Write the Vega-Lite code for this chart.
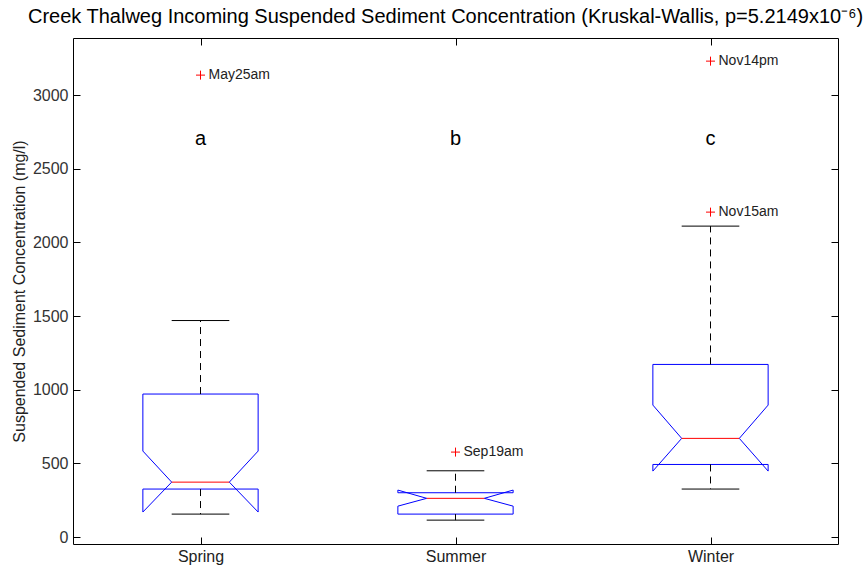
{
  "$schema": "https://vega.github.io/schema/vega-lite/v6.json",
  "autosize": "none",
  "width": 765,
  "height": 506,
  "padding": {"left": 73, "top": 38, "right": 25, "bottom": 27},
  "background": "white",
  "title": {
    "text": "Creek Thalweg Incoming Suspended Sediment Concentration (Kruskal-Wallis, p=5.2149x10⁻⁶)",
    "font": "Liberation Sans",
    "fontSize": 20,
    "fontWeight": "normal",
    "color": "#000",
    "anchor": "middle",
    "dx": -10,
    "offset": 11
  },
  "config": {
    "view": {"stroke": "#000", "strokeWidth": 1},
    "font": "Liberation Sans",
    "axis": {"grid": false, "domain": false, "labelFont": "Liberation Sans", "titleFont": "Liberation Sans"}
  },
  "datasets": {
    "stats": [
      {"season": "Spring", "pos": 1, "wlo": 156, "q1": 326, "nlo": 170, "med": 373, "nhi": 584, "q3": 971, "whi": 1470, "letter": "a"},
      {"season": "Summer", "pos": 2, "wlo": 115, "q1": 156, "nlo": 210, "med": 263, "nhi": 319, "q3": 301, "whi": 450, "letter": "b"},
      {"season": "Winter", "pos": 3, "wlo": 326, "q1": 493, "nlo": 448, "med": 670, "nhi": 896, "q3": 1172, "whi": 2111, "letter": "c"}
    ],
    "outliers": [
      {"season": "Spring", "pos": 1, "value": 3136, "label": "May25am"},
      {"season": "Summer", "pos": 2, "value": 577, "label": "Sep19am"},
      {"season": "Winter", "pos": 3, "value": 2206, "label": "Nov15am"},
      {"season": "Winter", "pos": 3, "value": 3231, "label": "Nov14pm"}
    ]
  },
  "resolve": {"axis": {"x": "independent", "y": "independent"}},
  "layer": [
    {
      "data": {"name": "stats"},
      "transform": [
        {"fold": ["q1", "nlo", "med", "nhi", "q3"], "as": ["stat", "v"]},
        {"calculate": "indexof(['q1','nlo','med','nhi','q3'], datum.stat)", "as": "i"},
        {"calculate": "datum.v", "as": "L"},
        {"calculate": "datum.v", "as": "R"},
        {"fold": ["L", "R"], "as": ["side", "vv"]},
        {"calculate": "datum.side === 'L' ? datum.i : 9 - datum.i", "as": "k"},
        {"calculate": "datum.pos + (datum.side === 'L' ? -1 : 1) * (datum.stat === 'med' ? 0.113 : 0.226)", "as": "vx"}
      ],
      "mark": {"type": "line", "color": "#0000ff", "strokeWidth": 1, "interpolate": "linear"},
      "encoding": {
        "x": {"field": "vx", "type": "quantitative", "scale": {"domain": [0.5, 3.5], "nice": false, "zero": false},
          "axis": {"orient": "bottom", "values": [1, 2, 3], "labelExpr": "datum.value == 1 ? 'Spring' : datum.value == 2 ? 'Summer' : 'Winter'",
            "tickSize": -7, "tickColor": "#000", "labelPadding": 11, "labelFontSize": 16, "labelColor": "#222", "title": null}},
        "y": {"field": "vv", "type": "quantitative", "scale": {"domain": [-47, 3388], "nice": false, "zero": false},
          "axis": {"orient": "left", "values": [0, 500, 1000, 1500, 2000, 2500, 3000], "format": "d", "tickSize": -7, "tickColor": "#000",
            "labelPadding": 12, "labelFontSize": 16, "labelColor": "#333",
            "title": "Suspended Sediment Concentration (mg/l)", "titleFontSize": 16, "titleFontWeight": "normal", "titleColor": "#222", "titlePadding": 5}},
        "detail": {"field": "season"},
        "order": {"field": "k", "type": "quantitative"}
      }
    },
    {
      "data": {"name": "stats"},
      "transform": [
        {"calculate": "datum.pos - 0.226", "as": "xl"},
        {"calculate": "datum.pos + 0.226", "as": "xr"}
      ],
      "mark": {"type": "rule", "color": "#0000ff", "strokeWidth": 1},
      "encoding": {
        "x": {"field": "xl", "type": "quantitative", "scale": {"domain": [0.5, 3.5], "nice": false, "zero": false},
          "axis": {"orient": "top", "values": [1, 2, 3], "labels": false, "tickSize": -7, "tickColor": "#000", "title": null}},
        "x2": {"field": "xr"},
        "y": {"field": "q1", "type": "quantitative", "scale": {"domain": [-47, 3388], "nice": false, "zero": false},
          "axis": {"orient": "right", "values": [0, 500, 1000, 1500, 2000, 2500, 3000], "labels": false, "tickSize": -7, "tickColor": "#000", "title": null}}
      }
    },
    {
      "data": {"name": "stats"},
      "transform": [
        {"fold": ["whi", "wlo"], "as": ["w", "wv"]},
        {"calculate": "datum.w === 'whi' ? datum.q3 : datum.q1", "as": "edge"}
      ],
      "mark": {"type": "rule", "color": "#000", "strokeWidth": 1, "strokeDash": [7, 5]},
      "encoding": {
        "x": {"field": "pos", "type": "quantitative", "scale": {"domain": [0.5, 3.5], "nice": false, "zero": false}, "axis": null},
        "y": {"field": "edge", "type": "quantitative", "scale": {"domain": [-47, 3388], "nice": false, "zero": false}, "axis": null},
        "y2": {"field": "wv"},
        "detail": {"field": "w"}
      }
    },
    {
      "data": {"name": "stats"},
      "transform": [
        {"fold": ["whi", "wlo"], "as": ["w", "wv"]},
        {"calculate": "datum.pos - 0.113", "as": "cl"},
        {"calculate": "datum.pos + 0.113", "as": "cr"}
      ],
      "mark": {"type": "rule", "color": "#000", "strokeWidth": 1},
      "encoding": {
        "x": {"field": "cl", "type": "quantitative", "scale": {"domain": [0.5, 3.5], "nice": false, "zero": false}, "axis": null},
        "x2": {"field": "cr"},
        "y": {"field": "wv", "type": "quantitative", "scale": {"domain": [-47, 3388], "nice": false, "zero": false}, "axis": null}
      }
    },
    {
      "data": {"name": "stats"},
      "transform": [
        {"calculate": "datum.pos - 0.113", "as": "ml"},
        {"calculate": "datum.pos + 0.113", "as": "mr"}
      ],
      "mark": {"type": "rule", "color": "#ff0000", "strokeWidth": 1},
      "encoding": {
        "x": {"field": "ml", "type": "quantitative", "scale": {"domain": [0.5, 3.5], "nice": false, "zero": false}, "axis": null},
        "x2": {"field": "mr"},
        "y": {"field": "med", "type": "quantitative", "scale": {"domain": [-47, 3388], "nice": false, "zero": false}, "axis": null}
      }
    },
    {
      "data": {"name": "stats"},
      "transform": [{"calculate": "2700", "as": "ly"}],
      "mark": {"type": "text", "fontSize": 20, "color": "#000", "align": "center", "baseline": "middle", "font": "Liberation Sans"},
      "encoding": {
        "x": {"field": "pos", "type": "quantitative", "scale": {"domain": [0.5, 3.5], "nice": false, "zero": false}, "axis": null},
        "y": {"field": "ly", "type": "quantitative", "scale": {"domain": [-47, 3388], "nice": false, "zero": false}, "axis": null},
        "text": {"field": "letter"}
      }
    },
    {
      "data": {"name": "outliers"},
      "mark": {"type": "point", "shape": "M-1,0L1,0M0,-1L0,1", "filled": false, "stroke": "#ff0000", "strokeWidth": 1, "size": 81, "opacity": 1},
      "encoding": {
        "x": {"field": "pos", "type": "quantitative", "scale": {"domain": [0.5, 3.5], "nice": false, "zero": false}, "axis": null},
        "y": {"field": "value", "type": "quantitative", "scale": {"domain": [-47, 3388], "nice": false, "zero": false}, "axis": null}
      }
    },
    {
      "data": {"name": "outliers"},
      "mark": {"type": "text", "fontSize": 14, "color": "#222", "align": "left", "baseline": "middle", "dx": 8, "font": "Liberation Sans"},
      "encoding": {
        "x": {"field": "pos", "type": "quantitative", "scale": {"domain": [0.5, 3.5], "nice": false, "zero": false}, "axis": null},
        "y": {"field": "value", "type": "quantitative", "scale": {"domain": [-47, 3388], "nice": false, "zero": false}, "axis": null},
        "text": {"field": "label"}
      }
    }
  ]
}
